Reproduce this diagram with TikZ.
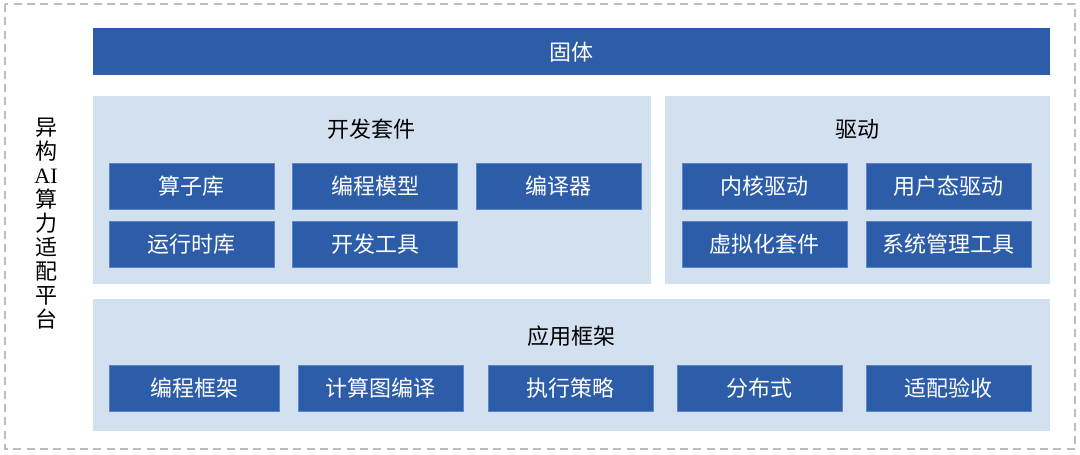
\documentclass[tikz,border=0pt]{standalone}
\usepackage{fontspec}
\setmainfont{Liberation Serif}
\newfontfamily\cjk{Noto Sans CJK SC}
\definecolor{deepblue}{HTML}{2D5DA9}
\definecolor{edgeblue}{HTML}{5A86C8}
\definecolor{paleblue}{HTML}{D2E0F0}
\definecolor{dashgray}{HTML}{BDBDBD}
\begin{document}
\begin{tikzpicture}[x=0.75pt, y=-0.75pt,
	panel/.style={fill=paleblue},
	title/.style={font=\cjk\fontsize{16.5}{18}\selectfont, text=black},
	blk/.style={draw=edgeblue, line width=0.6pt, fill=deepblue, text=white,
		font=\cjk\fontsize{16.5}{18}\selectfont,
		minimum width=123.75pt, minimum height=34.5pt, inner sep=0pt}]
	\useasboundingbox (0,0) rectangle (1080,454);

	% Outer dashed frame
	\draw[dashgray, line width=1.1pt, dash pattern=on 6pt off 4pt] (5,4) rectangle (1075,449);

	% Left side label
	\node[title, align=center] (platform) at (46,224)
		{异\\构\\{\rmfamily AI}\\算\\力\\适\\配\\平\\台};

	% Firmware bar
	\fill[deepblue] (93,28) rectangle (1050,75);
	\node[title, text=white] (firmware) at (571.5,52) {固体};

	% Development kit panel
	\fill[panel] (93,96) rectangle (651,284);
	\node[title] (kit) at (371,129) {开发套件};
	\node[blk] (oplib)   at (191.5,186) {算子库};
	\node[blk] (progmod) at (375,186)   {编程模型};
	\node[blk] (compil)  at (558.5,186) {编译器};
	\node[blk] (runtime) at (191.5,244) {运行时库};
	\node[blk] (devtool) at (375,244)   {开发工具};

	% Driver panel
	\fill[panel] (665,96) rectangle (1050,284);
	\node[title] (driver) at (857.5,129) {驱动};
	\node[blk] (kernel)  at (764.5,186) {内核驱动};
	\node[blk] (user)    at (948.5,186) {用户态驱动};
	\node[blk] (virt)    at (764.5,244) {虚拟化套件};
	\node[blk] (sysman)  at (948.5,244) {系统管理工具};

	% Application framework panel
	\fill[panel] (93,299) rectangle (1050,431);
	\node[title] (appfw) at (571.5,336) {应用框架};
	\node[blk, minimum width=127.5pt] (progfw) at (194,388) {编程框架};
	\node[blk] (graph)   at (380.5,388) {计算图编译};
	\node[blk] (exec)    at (570.5,388) {执行策略};
	\node[blk] (dist)    at (759.5,388) {分布式};
	\node[blk] (accept)  at (948.5,388) {适配验收};
\end{tikzpicture}
\end{document}
